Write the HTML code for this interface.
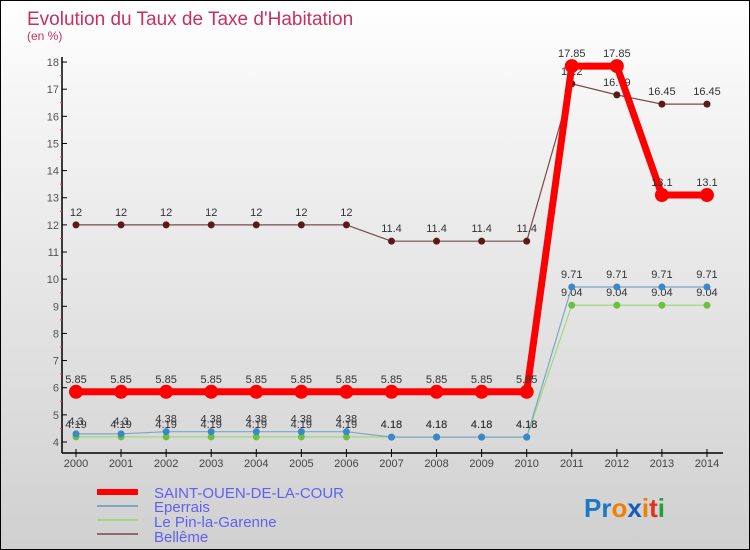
<!DOCTYPE html>
<html><head><meta charset="utf-8"><style>
body{margin:0}
#c{width:748px;height:548px;border:1px solid #000;background:linear-gradient(#fff,#f4f4f4 20%,#d0d0d0);position:relative;overflow:hidden;font-family:"Liberation Sans",sans-serif}
</style></head><body>
<div id="c">
<svg id="s" width="748" height="548" xmlns="http://www.w3.org/2000/svg" font-family="Liberation Sans, sans-serif">
<text x="26" y="24" font-size="19" fill="#c83060">Evolution du Taux de Taxe d'Habitation</text>
<text x="26" y="39" font-size="12" fill="#c83060">(en %)</text>
<g id="axes"></g><g id="series"></g>
<g>
<rect x="96" y="488" width="41" height="6" fill="#f00"/>
<rect x="96" y="504" width="41" height="2" fill="#7ba7c7"/>
<rect x="96" y="518" width="41" height="2" fill="#a0d880"/>
<rect x="96" y="532" width="41" height="2" fill="#8a6a6a"/>
<g font-size="15" fill="#6060f0">
<text x="153" y="497">SAINT-OUEN-DE-LA-COUR</text>
<text x="153" y="511">Eperrais</text>
<text x="153" y="526">Le Pin-la-Garenne</text>
<text x="153" y="541">Bellême</text>
</g></g>
<text x="583" y="516" font-size="26" font-weight="bold"><tspan fill="#1a78c8">Pr</tspan><tspan fill="#f08000">o</tspan><tspan fill="#1a58b8">x</tspan><tspan fill="#f08000">i</tspan><tspan fill="#e03020">t</tspan><tspan fill="#20a040">i</tspan></text>
</svg></div>
<script>
const years=[2000,2001,2002,2003,2004,2005,2006,2007,2008,2009,2010,2011,2012,2013,2014];
const yTicks=[4,5,6,7,8,9,10,11,12,13,14,15,16,17,18];
const saintOuen=[5.85,5.85,5.85,5.85,5.85,5.85,5.85,5.85,5.85,5.85,5.85,17.85,17.85,13.1,13.1];
const eperrais=[4.3,4.3,4.38,4.38,4.38,4.38,4.38,4.18,4.18,4.18,4.18,9.71,9.71,9.71,9.71];
const lePin=[4.19,4.19,4.19,4.19,4.19,4.19,4.19,4.18,4.18,4.18,4.18,9.04,9.04,9.04,9.04];
const belleme=[12,12,12,12,12,12,12,11.4,11.4,11.4,11.4,17.2,16.79,16.45,16.45];
const NS="http://www.w3.org/2000/svg";
const X=i=>75+i*45.07, Y=v=>441-(v-4)*27.14;
function mk(t,a,p){const e=document.createElementNS(NS,t);for(const k in a)e.setAttribute(k,a[k]);p.appendChild(e);return e;}
const ax=document.getElementById('axes'), sg=document.getElementById('series');
let e=mk('line',{x1:61,y1:56,x2:61,y2:452,stroke:'#000','stroke-width':1.5},ax);


e=mk('line',{x1:61,y1:452,x2:722,y2:452,stroke:'#000','stroke-width':1.5},ax);


yTicks.forEach(v=>{
 mk('line',{x1:61,x2:66,y1:Y(v),y2:Y(v),stroke:'#000'},ax);
 if(v<18)mk('line',{x1:59,x2:61,y1:Y(v+0.5),y2:Y(v+0.5),stroke:'#f44'},ax);
 const t=mk('text',{x:58,y:Y(v)+4,'font-size':11,fill:'#555','text-anchor':'end'},ax);t.textContent=v;
 
 
});
years.forEach((y,i)=>{
 mk('line',{x1:X(i),x2:X(i),y1:448,y2:456,stroke:'#000'},ax);
 const t=mk('text',{x:X(i),y:466,'font-size':11,fill:'#444','text-anchor':'middle'},ax);t.textContent=y;
 
 
});
function series(d,col,w,r,dot,name,lab){
 const g=mk('g',{},sg);
 
 
 mk('polyline',{points:d.map((v,i)=>X(i)+','+Y(v)).join(' '),fill:'none',stroke:col,'stroke-width':w,'stroke-linejoin':'round'},g);
 d.forEach((v,i)=>{
  const c=mk('circle',{cx:X(i),cy:Y(v),r:r,fill:dot},g);
  
  
  const t=mk('text',{x:X(i),y:Y(v)-9,'font-size':11,fill:'#333','text-anchor':'middle'},g);t.textContent=v;
 });
}
series(belleme,'#7a4a4a',1.2,3.5,'#5a1a1a','belleme-series');
series(lePin,'#a0d880',1.2,3.5,'#6cc040','le-pin-series');
series(eperrais,'#7ba7c7',1.2,3.5,'#3a88c8','eperrais-series');
series(saintOuen,'#f00',7,7,'#f00','saint-ouen-series');
</script>
</body></html>
